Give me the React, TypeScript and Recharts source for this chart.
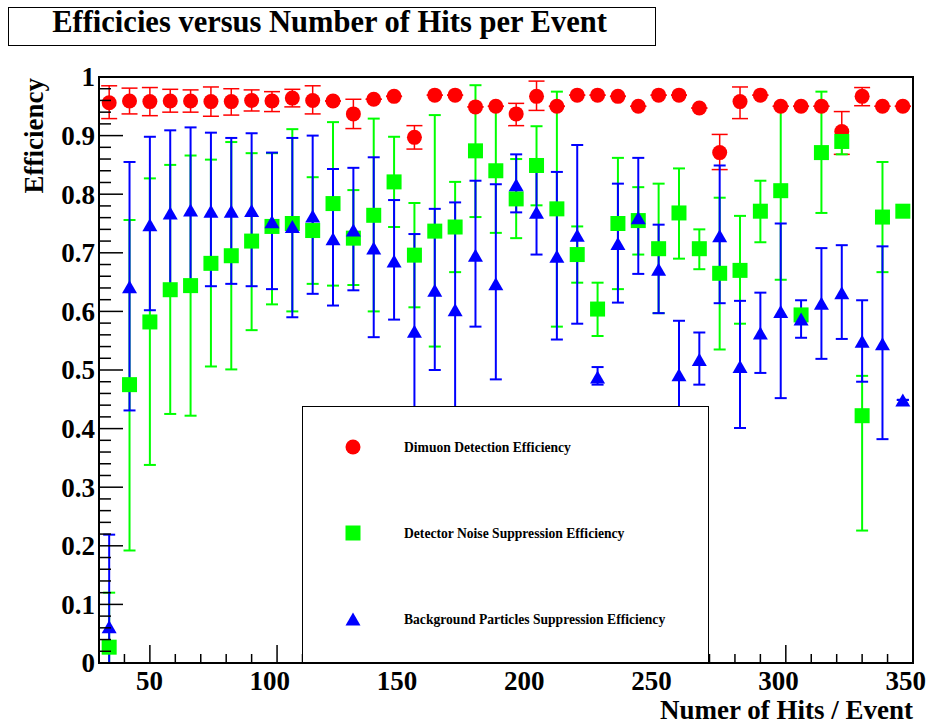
import React from "react";
import { ErrorBar, Label, Legend, ReferenceArea, Scatter, ScatterChart, XAxis, YAxis } from "recharts";

// number of hits per event (bin centres)
const hits = [
  34, 42, 50, 58, 66, 74, 82, 90, 98, 106, 114, 122, 130, 138, 146, 154, 162, 170, 178, 186,
  194, 202, 210, 218, 226, 234, 242, 250, 258, 266, 274, 282, 290, 298, 306, 314, 322, 330, 338, 346,
];

const dimuonEff = [
  0.956, 0.959, 0.958, 0.959, 0.959, 0.958, 0.958, 0.96, 0.959, 0.964, 0.96, 0.959, 0.937, 0.962, 0.967, 0.897, 0.969, 0.969, 0.949, 0.95,
  0.937, 0.967, 0.95, 0.969, 0.969, 0.967, 0.95, 0.969, 0.969, 0.947, 0.871, 0.958, 0.969, 0.95, 0.95, 0.95, 0.907, 0.967, 0.95, 0.95,
];
const dimuonLow = [
  0.929, 0.937, 0.934, 0.94, 0.94, 0.933, 0.935, 0.942, 0.941, 0.949, 0.937, 0.959, 0.912, 0.962, 0.967, 0.877, 0.969, 0.969, 0.949, 0.95,
  0.917, 0.943, 0.95, 0.969, 0.969, 0.967, 0.95, 0.969, 0.969, 0.947, 0.842, 0.929, 0.969, 0.95, 0.95, 0.95, 0.868, 0.951, 0.95, 0.95,
];
const dimuonHigh = [
  0.985, 0.981, 0.982, 0.979, 0.978, 0.983, 0.98, 0.978, 0.975, 0.979, 0.985, 0.959, 0.962, 0.962, 0.967, 0.917, 0.969, 0.969, 0.949, 0.95,
  0.955, 0.993, 0.95, 0.969, 0.969, 0.967, 0.95, 0.969, 0.969, 0.947, 0.902, 0.983, 0.969, 0.95, 0.95, 0.95, 0.941, 0.982, 0.95, 0.95,
];

const noiseEff = [
  0.027, 0.475, 0.582, 0.637, 0.644, 0.682, 0.695, 0.72, 0.745, 0.75, 0.738, 0.784, 0.725, 0.764, 0.821, 0.696, 0.737, 0.744, 0.874, 0.84,
  0.792, 0.849, 0.775, 0.697, 0.604, 0.75, 0.755, 0.707, 0.768, 0.707, 0.665, 0.67, 0.771, 0.806, 0.594, 0.871, 0.89, 0.422, 0.761, 0.771,
];
const noiseLow = [
  0, 0.192, 0.338, 0.425, 0.422, 0.506, 0.501, 0.568, 0.612, 0.6, 0.647, 0.644, 0.645, 0.6, 0.744, 0.607, 0.54, 0.667, 0.761, 0.734,
  0.725, 0.781, 0.574, 0.649, 0.558, 0.638, 0.697, 0.597, 0.69, 0.672, 0.535, 0.579, 0.718, 0.654, 0.594, 0.768, 0.868, 0.226, 0.667, 0.771,
];
const noiseHigh = [
  0.12, 0.756, 0.827, 0.85, 0.866, 0.859, 0.889, 0.87, 0.87, 0.911, 0.829, 0.923, 0.807, 0.929, 0.898, 0.785, 0.935, 0.821, 0.986, 0.946,
  0.86, 0.916, 0.975, 0.745, 0.649, 0.862, 0.812, 0.818, 0.844, 0.74, 0.794, 0.763, 0.823, 0.956, 0.594, 0.975, 0.909, 0.49, 0.855, 0.771,
];

const bgEff = [
  0.062, 0.642, 0.748, 0.768, 0.773, 0.771, 0.771, 0.772, 0.753, 0.745, 0.763, 0.724, 0.739, 0.708, 0.686, 0.566, 0.636, 0.603, 0.696, 0.647,
  0.816, 0.769, 0.694, 0.73, 0.488, 0.716, 0.76, 0.672, 0.492, 0.518, 0.729, 0.506, 0.563, 0.6, 0.587, 0.614, 0.632, 0.549, 0.545, 0.449,
];
const bgLow = [
  0, 0.431, 0.602, 0.636, 0.636, 0.643, 0.647, 0.643, 0.638, 0.59, 0.63, 0.61, 0.636, 0.556, 0.586, 0.4, 0.5, 0.42, 0.574, 0.484,
  0.769, 0.697, 0.552, 0.579, 0.475, 0.615, 0.664, 0.597, 0.4, 0.475, 0.614, 0.401, 0.495, 0.452, 0.555, 0.519, 0.553, 0.48, 0.382, 0.449,
];
const bgHigh = [
  0.219, 0.855, 0.898, 0.909, 0.914, 0.905, 0.896, 0.904, 0.871, 0.896, 0.9, 0.843, 0.845, 0.863, 0.79, 0.732, 0.775, 0.786, 0.823, 0.817,
  0.868, 0.845, 0.838, 0.884, 0.505, 0.818, 0.862, 0.748, 0.584, 0.564, 0.849, 0.618, 0.632, 0.75, 0.619, 0.708, 0.713, 0.619, 0.711, 0.449,
];

const xTicks = [30, 40, 50, 60, 70, 80, 90, 100, 110, 120, 130, 140, 150, 160, 170, 180, 190, 200, 210, 220, 230, 240, 250, 260, 270, 280, 290, 300, 310, 320, 330, 340, 350];
const yMajorTicks = [0, 0.1, 0.2, 0.3, 0.4, 0.5, 0.6, 0.7, 0.8, 0.9, 1];

const seriesNames = [
  "Dimuon Detection Efficiency",
  "Detector Noise Suppression Efficiency",
  "Background Particles Suppression Efficiency",
];

const FONT = '"Liberation Serif", "Times New Roman", serif';

function buildPoints(eff: number[], low: number[], high: number[]) {
  return hits.map((x, i) => ({ x, y: eff[i], err: [eff[i] - low[i], high[i] - eff[i]] }));
}

const dimuonData = buildPoints(dimuonEff, dimuonLow, dimuonHigh);
const noiseData = buildPoints(noiseEff, noiseLow, noiseHigh);
const bgData = buildPoints(bgEff, bgLow, bgHigh);

// y ticks every 0.02, labels only on the tenths
const yTicks: number[] = [];
yMajorTicks.forEach((t, i) => {
  yTicks.push(t);
  if (i < yMajorTicks.length - 1) for (let k = 1; k < 5; k++) yTicks.push(+(t + k * 0.02).toFixed(2));
});

const isTenth = (v: number) => Math.abs(v * 10 - Math.round(v * 10)) < 1e-6;

const Circle = ({ cx, cy }: any) => <circle cx={cx} cy={cy} r={7.5} fill="#ff0000" />;
const Square = ({ cx, cy }: any) => <rect x={cx - 7.5} y={cy - 7.5} width={15} height={15} fill="#00ff00" />;
const Triangle = ({ cx, cy }: any) => (
  <polygon points={`${cx},${cy - 6.5} ${cx - 7.5},${cy + 6.5} ${cx + 7.5},${cy + 6.5}`} fill="#0000ff" />
);

function YTick({ x, y, payload }: any) {
  const v = payload.value;
  const major = isTenth(v);
  const label = v === 0 ? "0" : v === 1 ? "1" : v.toFixed(1);
  return (
    <g>
      <line x1={x} x2={x + (major ? 24 : 12)} y1={y} y2={y} stroke="#000" strokeWidth={1.5} />
      {major && (
        <text x={x - 4} y={y} dy="0.35em" textAnchor="end" fontFamily={FONT} fontWeight="bold" fontSize={27} fill="#000">
          {label}
        </text>
      )}
    </g>
  );
}

function XTick({ x, y, payload }: any) {
  const v = payload.value;
  const major = v % 50 === 0;
  return (
    <g>
      <line x1={x} x2={x} y1={y} y2={y - (major ? 18 : 9)} stroke="#000" strokeWidth={1.5} />
      {major && (
        <text x={x + 13} y={y + 27} textAnchor="end" fontFamily={FONT} fontWeight="bold" fontSize={27} fill="#000">
          {v}
        </text>
      )}
    </g>
  );
}

function LegendBox() {
  const rows = [40, 126, 212];
  return (
    <div style={{ width: 407, height: 257, background: "#fff", border: "1.5px solid #000", boxSizing: "border-box" }}>
      <svg width={404} height={254} style={{ display: "block" }}>
        <Circle cx={50} cy={rows[0]} />
        <Square cx={50} cy={rows[1]} />
        <Triangle cx={50} cy={rows[2]} />
        {seriesNames.map((name, i) => (
          <text key={name} x={101} y={rows[i]} dy="0.35em" fontFamily={FONT} fontWeight="bold" fontSize={13.6} fill="#000">
            {name}
          </text>
        ))}
      </svg>
    </div>
  );
}

export default function App() {
  return (
    <div style={{ position: "absolute", left: 0, top: 0, width: 935, height: 724, background: "#fff", fontFamily: FONT }}>
      <div
        style={{
          position: "absolute",
          left: 8,
          top: 7,
          width: 648,
          height: 39,
          paddingRight: 5,
          border: "1.5px solid #000",
          boxSizing: "border-box",
          textAlign: "center",
          fontWeight: "bold",
          fontSize: 30.5,
          lineHeight: "29px",
          zIndex: 2,
        }}
      >
        Efficicies versus Number of Hits per Event
      </div>
      <ScatterChart width={935} height={724} margin={{ top: 77, right: 22, bottom: 21, left: 39 }}>
        <XAxis
          type="number"
          dataKey="x"
          domain={[30, 350]}
          ticks={xTicks}
          interval={0}
          height={40}
          tickSize={0}
          tickMargin={0}
          tick={<XTick />}
          axisLine={{ stroke: "#000", strokeWidth: 2 }}
          allowDataOverflow
        >
          <Label
            content={({ viewBox }: any) => (
              <text x={viewBox.x + viewBox.width} y={viewBox.y + 56} textAnchor="end" fontFamily={FONT} fontWeight="bold" fontSize={27} fill="#000">
                Numer of Hits / Event
              </text>
            )}
          />
        </XAxis>
        <YAxis
          type="number"
          dataKey="y"
          domain={[0, 1]}
          ticks={yTicks}
          interval={0}
          width={60}
          tickSize={0}
          tickMargin={0}
          tick={<YTick />}
          axisLine={{ stroke: "#000", strokeWidth: 2 }}
          allowDataOverflow
        >
          <Label
            content={({ viewBox }: any) => (
              <text
                x={viewBox.x + 4}
                y={viewBox.y + 1}
                transform={`rotate(-90, ${viewBox.x + 4}, ${viewBox.y + 1})`}
                textAnchor="end"
                fontFamily={FONT}
                fontWeight="bold"
                fontSize={27}
                fill="#000"
              >
                Efficiency
              </text>
            )}
          />
        </YAxis>
        <ReferenceArea x1={30} x2={350} y1={0} y2={1} fill="none" stroke="#000" strokeWidth={2} ifOverflow="visible" />
        <Scatter name={seriesNames[0]} data={dimuonData} shape={<Circle />} isAnimationActive={false}>
          <ErrorBar dataKey="err" direction="y" width={8} stroke="#ff0000" strokeWidth={1.5} isAnimationActive={false} />
        </Scatter>
        <Scatter name={seriesNames[1]} data={noiseData} shape={<Square />} isAnimationActive={false}>
          <ErrorBar dataKey="err" direction="y" width={6} stroke="#00ff00" strokeWidth={2} isAnimationActive={false} />
        </Scatter>
        <Scatter name={seriesNames[2]} data={bgData} shape={<Triangle />} isAnimationActive={false}>
          <ErrorBar dataKey="err" direction="y" width={6} stroke="#0000ff" strokeWidth={2} isAnimationActive={false} />
        </Scatter>
        <Legend
          layout="vertical"
          align="center"
          verticalAlign="middle"
          content={() => <LegendBox />}
          wrapperStyle={{ left: 302, top: 406, width: 407, height: 257, right: "auto", bottom: "auto" }}
        />
      </ScatterChart>
    </div>
  );
}
